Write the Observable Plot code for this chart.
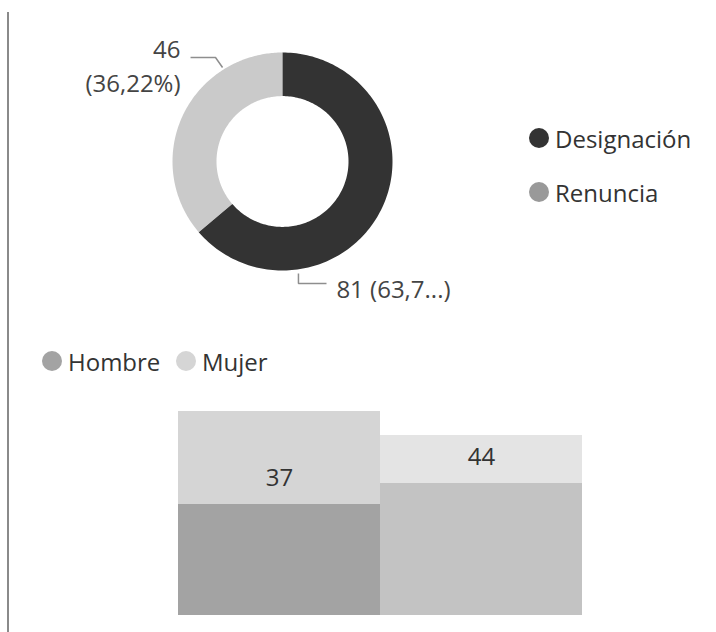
<!DOCTYPE html>
<html><head><meta charset="utf-8">
<script src="https://cdn.jsdelivr.net/npm/d3@7"></script>
<script src="https://cdn.jsdelivr.net/npm/@observablehq/plot@0.6"></script>
<style>
html,body{margin:0;padding:0;background:#fff;}
#root{position:relative;width:716px;height:632px;overflow:hidden;font-family:"Open Sans",sans-serif;}
.vline{position:absolute;left:7px;top:12px;width:2px;height:620px;background:#8a8a8a;}
.leg{position:absolute;display:flex;align-items:center;height:30px;color:#333;font-size:24px;white-space:nowrap;}
.sw{width:20px;height:20px;border-radius:50%;margin-right:6px;flex:none;}
#root svg{position:absolute;left:0;}
</style></head><body><div id="root"><div class="vline"></div></div>
<script>
// ---- data ----
const motivos = ["Designación", "Renuncia"];
const motivoValores = [81, 46];
const grupos = ["Grupo 1", "Grupo 2"];
const sexos = ["Hombre", "Mujer"];
const hombreValores = [37, 44];
const mujerValores = [31, 16];

// ---- styles ----
const motivoColores = ["#333333", "#999999"];
const sliceOpacity = [1, 0.52];
const sexoColores = ["#a3a3a3", "#d5d5d5"];
const grupoOpacity = [1, 0.65];
const FONT = '"Open Sans", sans-serif';

const root = document.getElementById("root");

// ---- donut ----
const total = d3.sum(motivoValores);
const innerR = 0.6;
const ring = [];
let acc = 0;
const sliceAngles = [];
motivos.forEach((m, i) => {
  const a0 = acc / total * 2 * Math.PI;
  acc += motivoValores[i];
  const a1 = acc / total * 2 * Math.PI;
  sliceAngles.push([a0, a1]);
  const n = 160;
  for (let k = 0; k <= n; k++) { const a = a0 + (a1 - a0) * k / n; ring.push({m, x: Math.sin(a), y: Math.cos(a)}); }
  for (let k = n; k >= 0; k--) { const a = a0 + (a1 - a0) * k / n; ring.push({m, x: innerR * Math.sin(a), y: innerR * Math.cos(a)}); }
});

const fmtPct = v => (v * 100).toFixed(2).replace(".", ",") + "%";
const pct = motivoValores.map(v => v / total);
const labelDesig = (() => { const s = `${motivoValores[0]} (${fmtPct(pct[0])})`; return s.slice(0, 8) + "...)"; })();
const labelRen = `${motivoValores[1]}\n(${fmtPct(pct[1])})`;

// leader lines (annotation layout, in unit-circle coordinates)
const leaders = [
  {m: "Renuncia", pts: [[-0.545, 0.862], [-0.609, 0.954], [-0.836, 0.954]]},
  {m: "Designación", pts: [[0.145, -1.028], [0.145, -1.119], [0.40, -1.119]]}
];
const leaderData = leaders.flatMap(l => l.pts.map(([x, y]) => ({m: l.m, x, y})));
const labels = [
  {m: "Renuncia", x: -0.927, y: 0.89, text: labelRen, anchor: "end"},
  {m: "Designación", x: 0.49, y: -1.183, text: labelDesig, anchor: "start"}
];

const donut = Plot.plot({
  width: 716, height: 320,
  marginLeft: 172, marginRight: 324, marginTop: 52, marginBottom: 50,
  x: {domain: [-1, 1], axis: null},
  y: {domain: [-1, 1], axis: null},
  style: {fontFamily: FONT, background: "transparent", overflow: "visible"},
  marks: [
    ...motivos.map((m, i) => Plot.line(ring.filter(d => d.m === m), {
      x: "x", y: "y", fill: motivoColores[i], fillOpacity: sliceOpacity[i], stroke: "none"
    })),
    Plot.line(leaderData, {x: "x", y: "y", z: "m", stroke: "#8e8e8e", strokeWidth: 1.5, strokeLinecap: "butt", strokeLinejoin: "miter"}),
    Plot.text(labels.filter(d => d.anchor === "end"), {x: "x", y: "y", text: "text", textAnchor: "end", lineAnchor: "middle", lineHeight: 1.4, fontSize: 24, fill: "#444"}),
    Plot.text(labels.filter(d => d.anchor === "start"), {x: "x", y: "y", text: "text", textAnchor: "start", lineAnchor: "middle", fontSize: 24, fill: "#444"})
  ]
});
donut.style.top = "0px";
root.appendChild(donut);

// donut legend
motivos.forEach((m, i) => {
  const d = document.createElement("div");
  d.className = "leg";
  d.style.left = "529px";
  d.style.top = (123 + i * 54) + "px";
  d.innerHTML = `<span class="sw" style="background:${motivoColores[i]}"></span><span>${m}</span>`;
  root.appendChild(d);
});

// ---- stacked columns ----
const barData = [];
grupos.forEach((g, i) => {
  barData.push({g, s: sexos[0], v: hombreValores[i], gi: i});
  barData.push({g, s: sexos[1], v: mujerValores[i], gi: i});
});
const maxTotal = d3.max(grupos, (g, i) => hombreValores[i] + mujerValores[i]);

const bars = Plot.plot({
  width: 716, height: 252,
  marginLeft: 178, marginRight: 134, marginTop: 31, marginBottom: 17,
  x: {domain: grupos, padding: 0, axis: null},
  y: {domain: [0, maxTotal], axis: null},
  color: {domain: sexos, range: sexoColores},
  style: {fontFamily: FONT, background: "transparent", overflow: "visible"},
  marks: [
    ...grupos.map((g, i) => Plot.barY(barData.filter(d => d.gi === i), {
      x: "g", y: "v", fill: "s", fillOpacity: grupoOpacity[i], order: sexos, insetLeft: 0, insetRight: 0
    })),
    Plot.text(grupos.map((g, i) => ({g, v: hombreValores[i]})), {
      x: "g", y: "v", text: d => String(d.v), dy: -26, fontSize: 24, fill: "#333"
    })
  ]
});
bars.style.top = "380px";
root.appendChild(bars);

// bottom legend
const legPos = [42, 176];
sexos.forEach((s, i) => {
  const d = document.createElement("div");
  d.className = "leg";
  d.style.left = legPos[i] + "px";
  d.style.top = "346px";
  d.innerHTML = `<span class="sw" style="background:${sexoColores[i]}"></span><span>${s}</span>`;
  root.appendChild(d);
});
</script></body></html>
